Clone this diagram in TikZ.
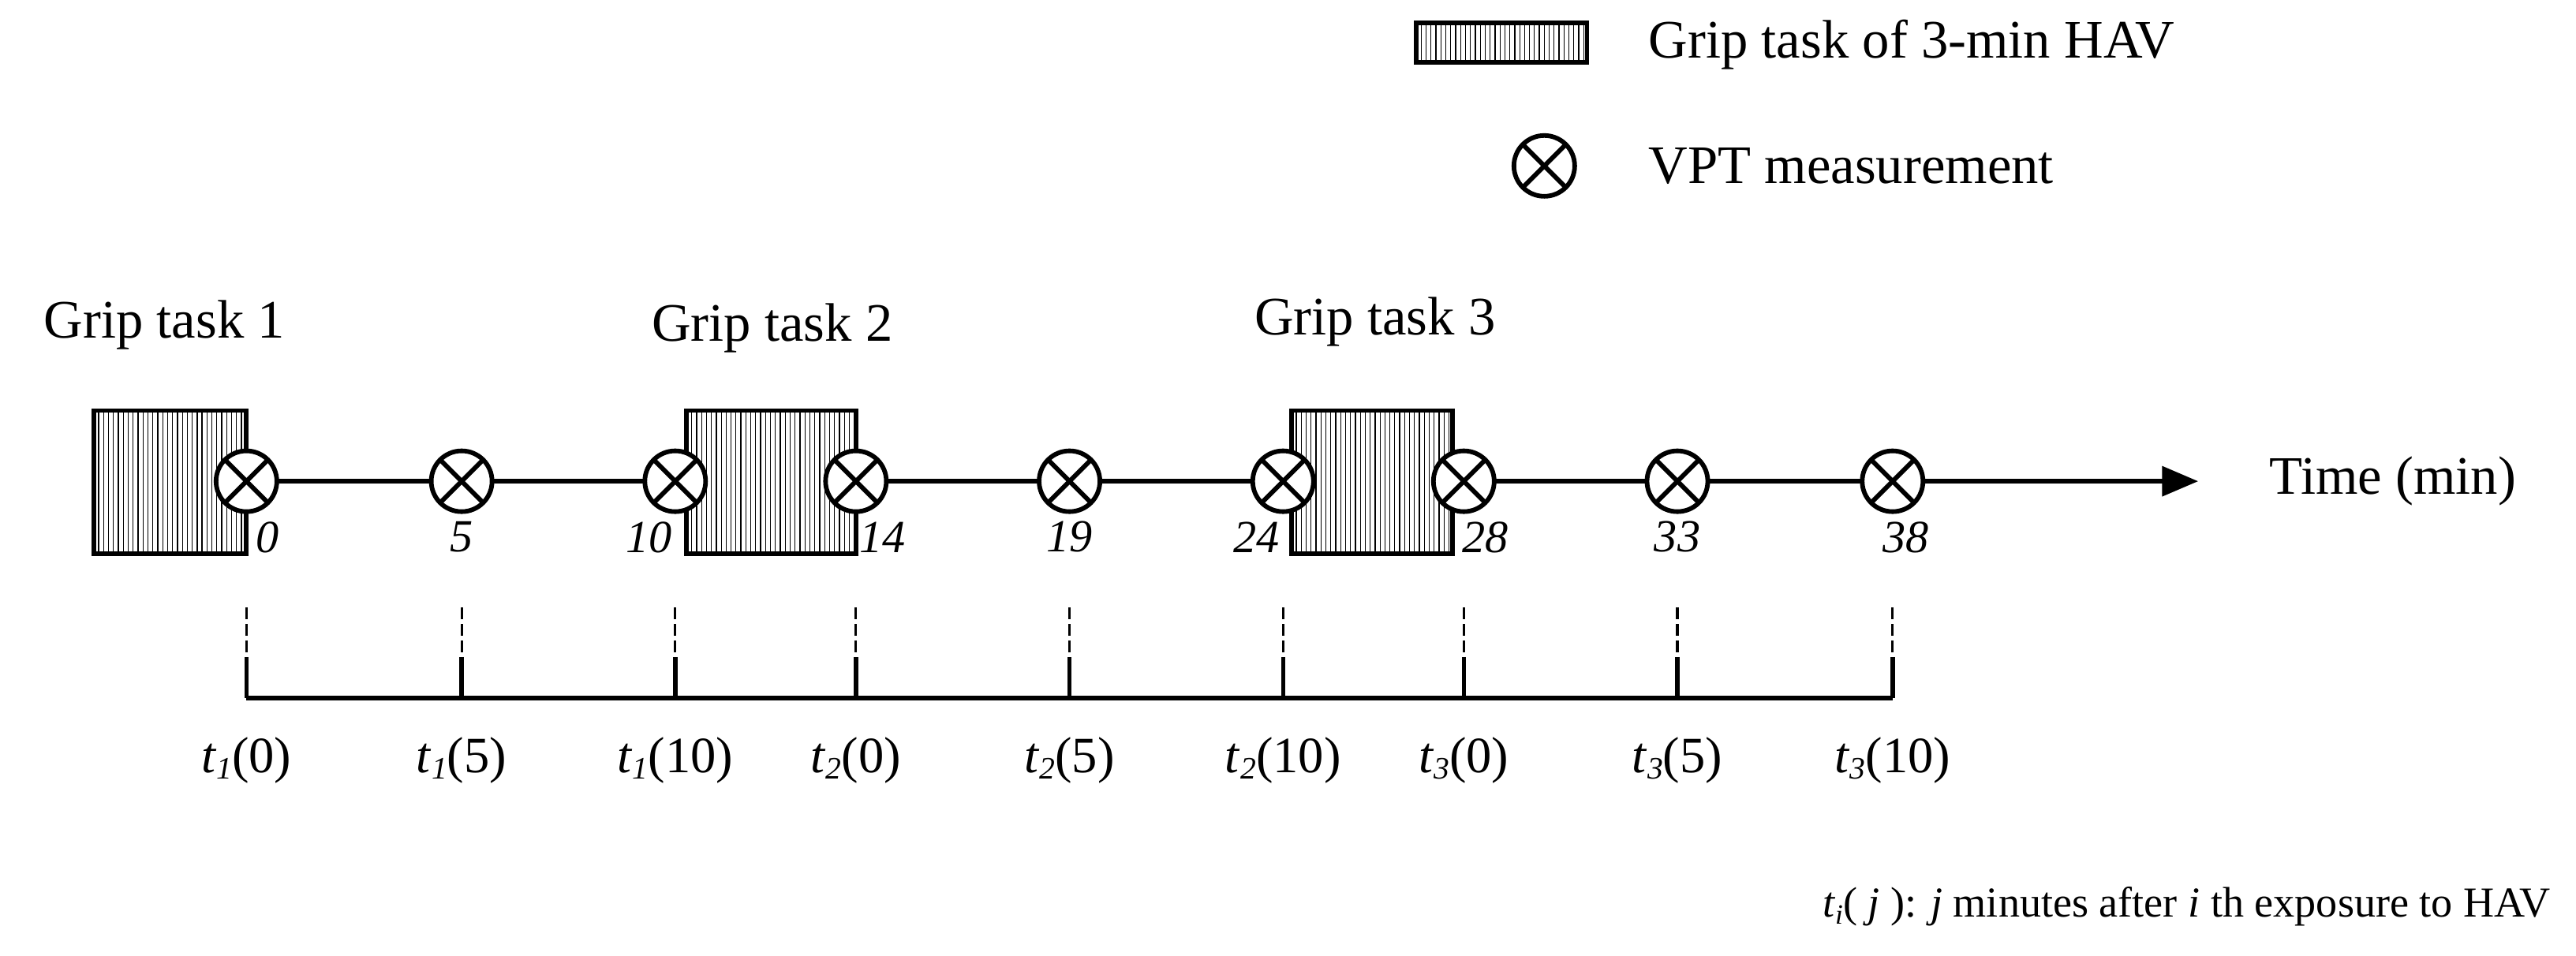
\documentclass[tikz,border=0pt]{standalone}
\usepackage{fontspec}
\setmainfont{Liberation Serif}
\usetikzlibrary{arrows.meta}
\begin{document}
\begin{tikzpicture}[x=1pt,y=-1pt,
  vpt/.style={circle,draw,line width=2.8pt,fill=white,minimum size=37pt,inner sep=0pt,
    path picture={\draw[line width=2.8pt] (path picture bounding box.north west)--(path picture bounding box.south east) (path picture bounding box.south west)--(path picture bounding box.north east);}},
  num/.style={font=\fontsize{28}{30}\selectfont\itshape},
  lab/.style={font=\fontsize{33}{36}\selectfont},
  tlab/.style={font=\fontsize{31}{34}\selectfont}]
\useasboundingbox (0,0) rectangle (1568,582);
% legend
\fill[white] (862,14) rectangle (966,38);
\foreach \xx in {865,868,...,964} \draw[line width=0.6pt] (\xx,14)--(\xx,38);
\draw[line width=2.8pt] (862,14) rectangle (966,38);
\node[lab,anchor=west] (leg1) at (1000,27) {Grip task of 3-min HAV};
\node[vpt] (legc) at (940,101) {};
\node[lab,anchor=west] (leg2) at (1000,101) {VPT measurement};
% timeline
\coordinate (tip) at (1338,293);
\foreach \i/\x in {1/150,2/281,3/411,4/521,5/651,6/781,7/891,8/1021,9/1152}
  \coordinate (p\i) at (\x,293);
\draw[line width=2.6pt,-{Triangle[length=22pt,width=18pt]}] (p1)--(tip);
% boxes
\foreach \a/\b in {57/150,418/521,786/884}{
  \fill[white] (\a,250) rectangle (\b,337);
  \foreach \xx in {\a,...,\b} {\pgfmathparse{mod(\xx-\a,3)==0 ? 1 : 0}\ifnum\pgfmathresult=1 \draw[line width=0.6pt] (\xx,250)--(\xx,337);\fi}
  \draw[line width=2.8pt] (\a,250) rectangle (\b,337);
}
\node[lab] (g1) at (100,198) {Grip task 1};
\node[lab] (g2) at (470,200) {Grip task 2};
\node[lab] (g3) at (837,196) {Grip task 3};
\foreach \i in {1,...,9} \node[vpt] (c\i) at (p\i) {};
\node[lab,anchor=west] (time) at (1378,293) {Time (min)};
\foreach \i/\x/\t in {1/163/0,2/281/5,3/395/10,4/537/14,5/651/19,6/765/24,7/904/28,8/1021/33,9/1160/38}
  \node[num] (n\i) at (\x,327) {\t};
% bracket
\foreach \i/\x in {1/150,2/281,3/411,4/521,5/651,6/781,7/891,8/1021,9/1152}{
  \coordinate (d\i) at (\x,370);
  \coordinate (m\i) at (\x,400);
  \coordinate (b\i) at (\x,425);
  \draw[line width=1.5pt,dash pattern=on 7pt off 3pt] (d\i)--(m\i);
  \draw[line width=2.6pt] (m\i)--(b\i);
}
\draw[line width=2.8pt] (b1)--(b9);
\foreach \i/\x/\s/\t in {1/150/1/0,2/281/1/5,3/411/1/10,4/521/2/0,5/651/2/5,6/781/2/10,7/891/3/0,8/1021/3/5,9/1152/3/10}
  \node[tlab] (l\i) at (\x,463) {\textit{t}\raisebox{-4pt}{\fontsize{19}{21}\selectfont\textit{\s}}(\t)};
\node[font=\fontsize{26}{30}\selectfont,anchor=east] (foot) at (1556,552) {\textit{t}\raisebox{-4pt}{\fontsize{17}{19}\selectfont\textit{i}}( \textit{j} ): \textit{j} minutes after \textit{i} th exposure to HAV};
\end{tikzpicture}
\end{document}
